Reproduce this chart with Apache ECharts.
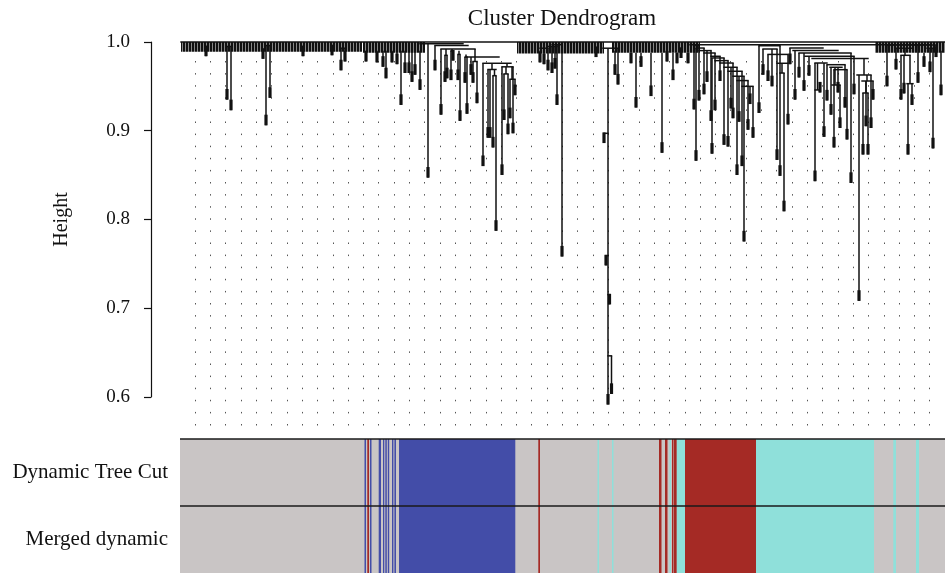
<!DOCTYPE html>
<html><head><meta charset="utf-8">
<script src="https://cdn.jsdelivr.net/npm/echarts@6/dist/echarts.min.js"></script>
<style>html,body{margin:0;padding:0;background:#fff}#c{width:945px;height:573px}</style>
</head><body><div id="c"></div>
<script>
// ---------------- data ----------------
const titleText = 'Cluster Dendrogram';
const yAxisName = 'Height';
const yTicks = [0.6, 0.7, 0.8, 0.9, 1.0];
const rowLabels = ['Dynamic Tree Cut', 'Merged dynamic'];

// leaf order runs 180..945 ; heights on the dendrogram scale
// dense combs of tiny leaves hanging from the top merge: [fromLeaf, toLeaf, lowestHeight]
const combs = [
  [181, 362, 0.989], [363, 425, 0.988], [517, 604, 0.987], [612, 700, 0.988], [875, 945, 0.988]
];
// leaf branches: [leafPosition, mergeHeight, leafHeight]
const leafStems = [
  // left block
  [206, 0.989, 0.984], [227, 0.995, 0.935], [231, 0.995, 0.923], [263, 0.99, 0.981], [266, 0.996, 0.906],
  [270, 0.996, 0.937], [303, 0.989, 0.984], [332, 0.989, 0.985], [341, 0.993, 0.968], [345, 0.993, 0.978],
  [366, 0.99, 0.978],
  // blue module area
  [377, 0.99, 0.977], [383, 0.99, 0.972], [386, 0.99, 0.959], [392, 0.99, 0.977], [397, 0.99, 0.975],
  [401, 0.99, 0.929], [405, 0.99, 0.965], [409, 0.99, 0.965], [412, 0.99, 0.955], [415, 0.99, 0.963],
  [420, 0.99, 0.946], [428, 0.998, 0.847], [435, 0.996, 0.968], [441, 0.992, 0.918], [445, 0.985, 0.955],
  [447, 0.985, 0.959], [451, 0.99, 0.957], [453, 0.99, 0.979], [458, 0.986, 0.957], [460, 0.986, 0.911],
  [465, 0.983, 0.954], [467, 0.983, 0.919], [471, 0.983, 0.963], [473, 0.978, 0.954], [477, 0.978, 0.931],
  [483, 0.976, 0.860], [488, 0.969, 0.892], [490, 0.969, 0.892], [493, 0.962, 0.881], [496, 0.962, 0.787],
  [502, 0.972, 0.850], [504, 0.964, 0.912], [508, 0.964, 0.896], [510, 0.958, 0.914], [513, 0.972, 0.897],
  [515, 0.958, 0.940],
  // middle
  [540, 0.99, 0.977], [544, 0.993, 0.975], [548, 0.993, 0.968], [552, 0.995, 0.965], [555, 0.995, 0.970],
  [557, 0.997, 0.929], [562, 0.997, 0.758], [596, 0.99, 0.983],
  [604, 0.897, 0.886], [606, 0.759, 0.748], [609.5, 0.715, 0.704], [611.5, 0.646, 0.603], [608, 0.993, 0.591],
  [615, 0.99, 0.963], [618, 0.993, 0.952], [631, 0.988, 0.976], [636, 0.988, 0.926], [641, 0.988, 0.972],
  [651, 0.988, 0.939], [662, 0.988, 0.875], [667, 0.988, 0.978], [673, 0.988, 0.957], [677, 0.988, 0.976],
  [681, 0.988, 0.982], [688, 0.988, 0.976],
  // red module area
  [694, 0.9958, 0.924], [696, 0.9932, 0.866], [699, 0.9958, 0.934], [704, 0.9932, 0.941], [707, 0.9903, 0.955],
  [711, 0.9903, 0.911], [712, 0.982, 0.874], [715, 0.9876, 0.923], [720, 0.9839, 0.956], [724, 0.982, 0.884],
  [728, 0.979, 0.882], [731, 0.9715, 0.925], [733, 0.9763, 0.914], [737, 0.9715, 0.850], [739, 0.9614, 0.910],
  [742, 0.967, 0.860], [744, 0.9614, 0.775], [748, 0.9565, 0.901], [750, 0.95, 0.930], [753, 0.95, 0.892],
  // turquoise module area
  [759, 0.9958, 0.920], [763, 0.9921, 0.963], [768, 0.986, 0.956], [772, 0.9921, 0.950], [777, 0.9921, 0.867],
  [780, 0.9958, 0.849], [784, 0.965, 0.809], [788, 0.986, 0.907],
  [790, 0.9932, 0.975], [795, 0.9903, 0.935], [799, 0.9876, 0.960], [804, 0.9876, 0.945], [809, 0.9839, 0.962],
  [815, 0.9763, 0.843], [820, 0.9459, 0.943], [824, 0.9763, 0.893], [827, 0.9744, 0.934], [831, 0.9715, 0.918],
  [834, 0.9688, 0.881], [838, 0.9715, 0.943], [840, 0.9515, 0.903], [845, 0.9744, 0.926], [847, 0.9688, 0.890],
  [851, 0.9876, 0.841], [854, 0.9839, 0.941], [859, 0.9628, 0.708], [863, 0.9425, 0.873], [866, 0.956, 0.905],
  [868, 0.9425, 0.873], [871, 0.9628, 0.903], [873, 0.956, 0.935],
  // right block
  [887, 0.9966, 0.950], [896, 0.993, 0.969], [901, 0.985, 0.935], [904, 0.985, 0.942], [908, 0.953, 0.873],
  [912, 0.953, 0.929], [918, 0.9966, 0.954], [924, 0.988, 0.972], [930, 0.993, 0.966], [933, 0.993, 0.880],
  [936, 0.9966, 0.983], [941, 0.99, 0.940]
];
// internal branches joining two merges: [position, upperHeight, lowerHeight]
const links = [
  [446, 0.992, 0.985], [452, 0.992, 0.99], [459, 0.99, 0.986], [466, 0.986, 0.983], [475, 0.992, 0.978],
  [492, 0.976, 0.969], [494.5, 0.969, 0.962], [507, 0.976, 0.972], [506, 0.972, 0.964], [512, 0.972, 0.958],
  [864, 0.9813, 0.9628], [867, 0.9628, 0.956], [866, 0.956, 0.9425], [817.5, 0.9763, 0.9459],
  [835, 0.9715, 0.9515], [910, 0.985, 0.953], [905, 0.993, 0.985], [782, 0.976, 0.965]
];
// merges: [leftPosition, rightPosition, height]
const joins = [
  [181, 945, 1.0], [690, 930, 0.997],
  [227, 231, 0.995], [265, 270, 0.996], [340, 346, 0.993],
  [420, 463, 0.998], [435, 468, 0.996], [441, 475, 0.992], [445, 447, 0.985], [451, 453, 0.99],
  [458, 460, 0.986], [465, 467, 0.983], [473, 477, 0.978], [466, 499, 0.983], [483, 511, 0.976],
  [488, 496, 0.969], [493, 496, 0.962], [502, 513, 0.972], [504, 508, 0.964], [510, 515, 0.958],
  [540, 548, 0.993], [548, 557, 0.995], [552, 562, 0.997], [603, 618, 0.993],
  [604, 608, 0.897], [606, 608, 0.759], [608, 609.5, 0.715], [608, 611.5, 0.646],
  [694, 699, 0.9958], [696, 704, 0.9932], [699, 711, 0.9903], [704, 715, 0.9876], [711, 720, 0.9839],
  [712, 724, 0.982], [715, 728, 0.979], [720, 733, 0.9763], [724, 737, 0.9715], [728, 742, 0.967],
  [733, 744, 0.9614], [737, 748, 0.9565], [742, 753, 0.95],
  [759, 780, 0.9958], [763, 777, 0.9921], [768, 788, 0.986], [780, 784, 0.965], [777, 788, 0.976],
  [790, 823, 0.9932], [793, 838, 0.9903], [799, 851, 0.9876], [805, 854, 0.9839], [812, 868, 0.9813],
  [815, 827, 0.9763], [827, 845, 0.9744], [830, 842, 0.9715], [834, 847, 0.9688], [857, 871, 0.9628],
  [862, 873, 0.956], [863, 868, 0.9425], [832, 840, 0.9515], [815, 820, 0.9459],
  [887, 917, 0.9966], [896, 913, 0.993], [901, 910, 0.985], [907, 913, 0.953], [918, 937, 0.9966],
  [927, 933, 0.993]
];
const guideCount = 49;
// colour rows: [fromLeaf, toLeaf, colour]
const dynamicColors = [
  [180, 945, 'grey'], [364.5, 366, 'blue'], [367.3, 369, 'red'], [370, 371.5, 'blue'], [378.7, 381, 'blue'],
  [383, 384.3, 'blue'], [385.3, 386.8, 'blue'], [387.8, 389.2, 'blue'], [392, 393.4, 'blue'], [394.4, 396, 'blue'],
  [399, 515.3, 'blue'], [538.3, 540, 'red'], [597.5, 599, 'turquoise'], [612, 613.5, 'turquoise'],
  [659, 661.5, 'red'], [665, 667.5, 'red'], [669.5, 671, 'turquoise'], [672, 673.5, 'red'], [674, 676.8, 'red'],
  [676.8, 685, 'turquoise'], [685, 756, 'red'], [756, 874, 'turquoise'], [893.3, 896, 'turquoise'],
  [916, 919, 'turquoise']
];
const mergedColors = [
  [180, 945, 'grey'], [364.5, 366, 'blue'], [367.3, 369, 'red'], [370, 371.5, 'blue'], [378.7, 381, 'blue'],
  [383, 384.3, 'blue'], [385.3, 386.8, 'blue'], [387.8, 389.2, 'blue'], [392, 393.4, 'blue'], [394.4, 396, 'blue'],
  [399, 515.3, 'blue'], [538.3, 540, 'red'], [597.5, 599, 'turquoise'], [612, 613.5, 'turquoise'],
  [659, 661.5, 'red'], [665, 667.5, 'red'], [669.5, 671, 'turquoise'], [672, 673.5, 'red'], [674, 676.8, 'red'],
  [676.8, 685, 'turquoise'], [685, 756, 'red'], [756, 874, 'turquoise'], [893.3, 896, 'turquoise'],
  [916, 919, 'turquoise']
];

// ---------------- styles ----------------
const FONT = '"Liberation Serif", "DejaVu Serif", serif';
const palette = { grey: '#C9C5C5', blue: '#434DA8', red: '#A52A25', turquoise: '#8FE0DA' };
const INK = '#111';
const LEAF_BLOCK = 0.012;

const pc = document.createElement('canvas');
pc.width = 3; pc.height = 1;
const g = pc.getContext('2d');
g.fillStyle = '#111'; g.fillRect(0, 0, 2, 1);
g.fillStyle = '#888'; g.fillRect(2, 0, 1, 1);

function renderComb(params, api) {
  const a = api.coord([api.value(0), 1.0]);
  const b = api.coord([api.value(1), api.value(2)]);
  return { type: 'rect', shape: { x: a[0], y: a[1], width: b[0] - a[0], height: b[1] - a[1] },
    style: { fill: { image: pc, repeat: 'repeat' } } };
}
function renderStem(params, api) {
  const x = api.value(0), top = api.value(1), bot = api.value(2);
  const p1 = api.coord([x, top]), p2 = api.coord([x, bot]), pb = api.coord([x, bot + LEAF_BLOCK]);
  return { type: 'group', children: [
    { type: 'line', shape: { x1: p1[0], y1: p1[1], x2: p2[0], y2: p2[1] }, style: { stroke: INK, lineWidth: 1.5 } },
    { type: 'rect', shape: { x: p2[0] - 1.6, y: pb[1], width: 3.2, height: p2[1] - pb[1] }, style: { fill: INK } }
  ] };
}
function renderLink(params, api) {
  const x = api.value(0);
  const p1 = api.coord([x, api.value(1)]), p2 = api.coord([x, api.value(2)]);
  return { type: 'line', shape: { x1: p1[0], y1: p1[1], x2: p2[0], y2: p2[1] }, style: { stroke: INK, lineWidth: 1.5 } };
}
function renderJoin(params, api) {
  const h = api.value(2);
  const p1 = api.coord([api.value(0), h]), p2 = api.coord([api.value(1), h]);
  return { type: 'line', shape: { x1: p1[0] - 0.7, y1: p1[1], x2: p2[0] + 0.7, y2: p2[1] }, style: { stroke: INK, lineWidth: 1.5 } };
}
function colorRenderer(rows, rowIndex) {
  return function (params, api) {
    const s = rows[params.dataIndex];
    const a = api.coord([s[0], rowIndex]), b = api.coord([s[1], rowIndex]);
    const h = api.size([0, 1])[1];
    return { type: 'rect', shape: { x: a[0], y: a[1] - h / 2, width: b[0] - a[0], height: h },
      style: { fill: palette[s[2]] } };
  };
}

const chart = echarts.init(document.getElementById('c'), null, { renderer: 'canvas' });
chart.setOption({
  animation: false,
  backgroundColor: '#fff',
  graphic: [{ type: 'text', x: 562, y: 19, style: { text: titleText, font: '23px ' + FONT, fill: INK, textAlign: 'center', textVerticalAlign: 'middle' } }],
  grid: [
    { left: 151, top: 42, width: 10, height: 355 },
    { left: 180, top: 42, width: 765, height: 383 },
    { left: 195, top: 61, width: 754, height: 374 },
    { left: 180, top: 439, width: 765, height: 136 }
  ],
  xAxis: [
    { gridIndex: 0, type: 'value', show: false },
    { gridIndex: 1, type: 'value', min: 180, max: 945, show: false },
    { gridIndex: 2, type: 'value', min: 0, max: guideCount, interval: 1,
      axisLine: { show: false }, axisTick: { show: false }, axisLabel: { show: false },
      splitLine: { show: true, lineStyle: { color: '#555', width: 1, type: [1.5, 10.6] } } },
    { gridIndex: 3, type: 'value', min: 180, max: 945, show: false }
  ],
  yAxis: [
    { gridIndex: 0, type: 'value', min: yTicks[0], max: yTicks[yTicks.length - 1], interval: 0.1,
      name: yAxisName, nameLocation: 'middle', nameGap: 79,
      nameTextStyle: { fontFamily: FONT, fontSize: 20, color: INK },
      axisLine: { show: true, lineStyle: { color: INK, width: 1.2 } },
      axisTick: { show: true, length: 7, lineStyle: { color: INK, width: 1.2 } },
      axisLabel: { formatter: v => v.toFixed(1), fontFamily: FONT, fontSize: 19, color: INK, margin: 21 },
      splitLine: { show: false } },
    { gridIndex: 1, type: 'value', min: 0.568, max: 1.0, show: false },
    { gridIndex: 2, type: 'value', show: false },
    { gridIndex: 3, type: 'category', data: rowLabels, inverse: true, z: 5,
      axisLine: { show: false }, axisTick: { show: false },
      axisLabel: { fontFamily: FONT, fontSize: 21, color: INK, margin: 12 },
      splitLine: { show: true, showMaxLine: false, lineStyle: { color: '#1a1a1a', width: 1.6 } } }
  ],
  series: [
    { type: 'custom', name: 'combs', xAxisIndex: 1, yAxisIndex: 1, renderItem: renderComb, data: combs, z: 3 },
    { type: 'custom', name: 'joins', xAxisIndex: 1, yAxisIndex: 1, renderItem: renderJoin, data: joins, z: 4 },
    { type: 'custom', name: 'links', xAxisIndex: 1, yAxisIndex: 1, renderItem: renderLink, data: links, z: 4 },
    { type: 'custom', name: 'leaves', xAxisIndex: 1, yAxisIndex: 1, renderItem: renderStem, data: leafStems, z: 4 },
    { type: 'custom', name: rowLabels[0], xAxisIndex: 3, yAxisIndex: 3, renderItem: colorRenderer(dynamicColors, 0),
      data: dynamicColors.map(s => [s[0], s[1], 0]), z: 2 },
    { type: 'custom', name: rowLabels[1], xAxisIndex: 3, yAxisIndex: 3, renderItem: colorRenderer(mergedColors, 1),
      data: mergedColors.map(s => [s[0], s[1], 1]), z: 2 }
  ]
});
</script></body></html>
